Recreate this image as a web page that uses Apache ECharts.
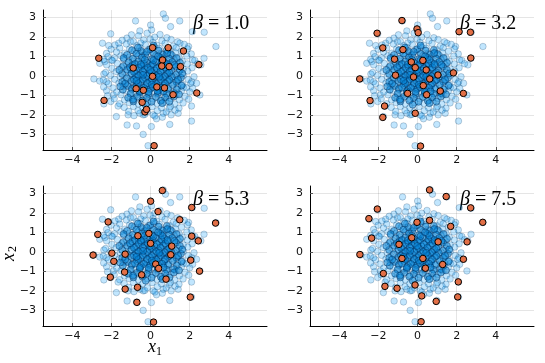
<!DOCTYPE html>
<html>
<head>
<meta charset="utf-8">
<script src="https://cdn.jsdelivr.net/npm/echarts@6/dist/echarts.min.js"></script>
<style>
  html, body { margin: 0; padding: 0; background: #fff; }
  #main { width: 545px; height: 363px; }
</style>
</head>
<body>
<div id="main"></div>
<script>
// sample cloud, same in all four panels
const cloudOuter = [
  [0.65,3.17],[0.76,2.95],[1.49,2.81],[-0.77,2.81],[0,2.6],[0.05,2.35],[-0.55,2.3],[-2.04,2.15],
  [2.74,2.23],[2.13,2.26],[1.02,2.52],[3.34,1.5],[-2.46,1.67],[-2.14,1.55],[-1.63,1.67],[-0.98,2.1],
  [-1.03,1.75],[1.5,1.67],[1.94,1.5],[-2.25,1.15],[-2.6,0.64],[-2.34,0.73],[-2.0,0.81],[2.15,0.81],
  [2.73,0.9],[2.57,0.56],[-2.9,-0.16],[-2.39,0.09],[-2.25,-0.3],[-2.6,-0.27],[2.1,-0.3],[2.35,-0.38],
  [2.15,-0.64],[2.52,-0.98],[1.68,-0.59],[-2.25,-0.76],[-1.91,-0.98],[-2.04,-1.32],[-2.39,-1.44],
  [-1.66,-1.55],[-1.75,-2.09],[-1.2,-2.52],[-0.72,-2.57],[-1.15,-2.0],[-0.38,-3.0],[-0.13,-3.58],
  [0.04,-2.6],[0.3,-2.2],[0.98,-2.49],[1.41,-1.92],[2.09,-1.55],[2.09,-2.32],[0.95,-1.67],
  [0.65,-1.92],[0.13,-2.0],[-0.38,-2.0],[-0.55,-1.92]
];
const cloudRing = [
  [-0.62,2.05],[0.21,1.98],[0.48,2.12],[-0.18,2.18],[0.83,1.95],[-1.21,1.93],
  [-1.45,1.82],[-0.88,1.76],[-0.35,1.84],[0.12,1.71],[0.58,1.79],[1.05,1.86],[1.38,1.74],[-0.02,1.88],
  [-1.82,1.58],[-1.24,1.63],[-0.71,1.55],[-0.27,1.62],[0.31,1.57],[0.74,1.66],[1.16,1.52],[1.72,1.61],[-0.5,1.68],
  [-2.02,1.36],[-1.58,1.42],[-1.07,1.38],[-0.55,1.45],[-0.1,1.33],[0.45,1.41],[0.96,1.35],[1.31,1.44],[1.89,1.38],[0.18,1.47],
  [-1.74,1.22],[-1.32,1.16],[-0.84,1.25],[-0.38,1.18],[0.06,1.24],[0.52,1.15],[0.88,1.21],[1.27,1.18],[1.58,1.26],[2.08,1.12],[-0.6,1.1],
  [-2.18,0.98],[-1.52,1.03],[-1.1,0.95],[-0.66,1.02],[-0.22,0.96],[0.28,1.05],[0.69,0.97],[1.12,1.04],[1.46,0.93],[1.85,1.01],[-1.85,0.92],
  [-1.95,0.78],[-1.38,0.83],[-0.92,0.76],[-0.45,0.82],[0.02,0.74],[0.41,0.84],[0.82,0.77],[1.21,0.83],[1.62,0.75],[2.26,0.79],[-2.4,0.84],
  [-2.25,0.56],[-1.7,0.63],[-1.22,0.57],[-0.76,0.64],[-0.31,0.55],[0.15,0.62],[0.59,0.56],[1.02,0.65],[1.41,0.58],[1.88,0.61],[2.4,0.62],
  [-1.98,0.38],[-1.48,0.42],[-1.03,0.35],[-0.58,0.43],[-0.12,0.37],[0.33,0.44],[0.76,0.36],[1.23,0.42],[1.67,0.35],[2.12,0.41],
  [-2.3,0.17],[-1.76,0.22],[-1.26,0.16],[-0.81,0.24],[-0.35,0.18],[0.09,0.23],[0.54,0.15],[0.98,0.22],[1.44,0.18],[1.9,0.24],
  [-2.05,0.02],[-1.55,-0.04],[-1.06,0.04],[-0.6,-0.03],[-0.16,0.05],[0.31,-0.02],[0.77,0.03],[1.21,-0.04],[1.68,0.02],[2.22,-0.05],
  [-2.42,-0.22],[-1.84,-0.18],[-1.34,-0.24],[-0.87,-0.17],[-0.41,-0.23],[0.05,-0.16],[0.52,-0.22],[0.96,-0.18],[1.45,-0.24],[1.92,-0.19],
  [-2.15,-0.41],[-1.62,-0.37],[-1.13,-0.44],[-0.66,-0.38],[-0.2,-0.42],[0.27,-0.36],[0.73,-0.43],[1.18,-0.37],[1.64,-0.44],[2.05,-0.39],
  [-1.92,-0.62],[-1.4,-0.56],[-0.93,-0.63],[-0.45,-0.58],[0.01,-0.64],[0.47,-0.57],[0.93,-0.62],[1.38,-0.56],[1.83,-0.61],[-2.4,-0.57],
  [-1.73,-0.83],[-1.25,-0.77],[-0.76,-0.84],[-0.28,-0.78],[0.19,-0.82],[0.66,-0.76],[1.12,-0.84],[1.57,-0.78],[2.0,-0.82],
  [-2.2,-1.02],[-1.52,-0.97],[-1.04,-1.04],[-0.55,-0.98],[-0.08,-1.03],[0.38,-0.96],[0.84,-1.02],[1.3,-0.98],[1.76,-1.05],
  [-1.86,-1.18],[-1.33,-1.24],[-0.84,-1.17],[-0.36,-1.22],[0.12,-1.19],[0.58,-1.25],[1.04,-1.16],[1.47,-1.23],[1.95,-1.2],
  [-1.58,-1.43],[-1.1,-1.37],[-0.63,-1.44],[-0.15,-1.38],[0.33,-1.42],[0.79,-1.36],[1.24,-1.44],[1.66,-1.39],
  [-1.35,-1.62],[-0.88,-1.57],[-0.4,-1.63],[0.08,-1.58],[0.55,-1.64],[1.02,-1.57],[1.45,-1.66],
  [-1.12,-1.82],[-0.64,-1.78],[-0.17,-1.84],[0.34,-1.79],[0.8,-1.85],[1.25,-1.76],
  [-0.85,-2.04],[-0.3,-1.98],[0.22,-2.06],[0.6,-2.12],[1.05,-2.0]
];
const cloudCore = [
  [-0.95,1.31],[-0.48,1.27],[-0.02,1.36],[0.41,1.29],[0.83,1.32],
  [-1.2,1.07],[-0.73,1.13],[-0.28,1.06],[0.17,1.12],[0.62,1.08],[1.03,1.11],
  [-1.38,0.91],[-0.9,0.87],[-0.44,0.93],[0.07,0.86],[0.51,0.92],[0.95,0.88],[1.33,0.91],
  [-1.12,0.69],[-0.63,0.73],[-0.18,0.67],[0.27,0.72],[0.7,0.68],[1.11,0.71],[1.5,0.67],
  [-1.4,0.49],[-0.93,0.53],[-0.47,0.47],[0.02,0.52],[0.46,0.48],[0.88,0.53],[1.3,0.47],
  [-1.2,0.31],[-0.74,0.27],[-0.29,0.33],[0.2,0.28],[0.63,0.32],[1.06,0.27],[1.5,0.3],
  [-1.45,0.09],[-0.97,0.12],[-0.51,0.07],[-0.05,0.13],[0.41,0.08],[0.86,0.11],[1.3,0.06],
  [-1.22,-0.12],[-0.75,-0.07],[-0.28,-0.13],[0.18,-0.08],[0.63,-0.11],[1.08,-0.06],[1.55,-0.1],
  [-1.45,-0.31],[-0.98,-0.27],[-0.51,-0.33],[-0.04,-0.28],[0.42,-0.32],[0.88,-0.27],[1.32,-0.31],
  [-1.18,-0.52],[-0.7,-0.47],[-0.24,-0.53],[0.22,-0.48],[0.68,-0.51],[1.13,-0.47],[1.58,-0.5],
  [-1.42,-0.71],[-0.96,-0.67],[-0.49,-0.73],[-0.03,-0.68],[0.43,-0.72],[0.89,-0.67],[1.34,-0.7],
  [-1.02,-0.91],[-0.55,-0.87],[-0.1,-0.93],[0.37,-0.88],[0.82,-0.92],[1.2,-0.89],
  [-1.15,-1.12],[-0.68,-1.07],[-0.2,-1.13],[0.27,-1.08],[0.74,-1.11],[1.19,-1.06],
  [-0.88,-1.31],[-0.42,-1.27],[0.05,-1.33],[0.52,-1.28],[0.96,-1.32],
  [-0.8,0.6],[-0.35,0.62],[0.1,0.58],[0.55,0.63],[-0.62,0.4],[-0.15,0.42],[0.32,0.38],[0.75,0.43],
  [-0.85,0.2],[-0.4,0.22],[0.05,0.18],[0.5,0.21],[0.95,0.17],[-0.62,0.0],[-0.17,-0.02],[0.29,0.01],
  [0.72,-0.03],[-0.85,-0.2],[-0.4,-0.18],[0.07,-0.22],[0.52,-0.19],[0.96,-0.21],[-0.63,-0.4],
  [-0.17,-0.38],[0.3,-0.42],[0.74,-0.39],[-0.8,-0.6],[-0.34,-0.62],[0.12,-0.58],[0.58,-0.61],
  [-0.55,-0.8],[-0.1,-0.82],[0.35,-0.78],[-0.3,0.82],[0.15,0.8],[0.6,0.83],
  [-1.05,0.44],[-0.2,1.23],[0.38,1.0],[1.22,0.56],[-1.3,-0.4],[1.4,-0.2],[-0.9,-1.22],[0.6,-1.4],
  [-0.25,-1.48],[0.85,1.16],[-0.65,1.45],[1.62,0.12],[-1.6,0.3],[-1.55,-0.55],[1.45,-0.95],[0.15,1.55],
  [-0.38,0.05],[0.44,-0.05],[-0.02,0.3],[0.06,-0.45],[-0.5,0.58],[0.86,0.6],[-0.72,-0.25],[0.66,-0.8]
];

// highlighted points per panel
const picked1 = [
  [-2.65,0.9],[0.1,1.44],[0.9,1.44],[1.68,1.27],[0.61,0.81],[0.57,0.5],[0.95,0.47],[1.53,0.47],
  [2.47,0.57],[-0.89,0.4],[0.1,-0.03],[-0.74,-0.66],[-0.37,-0.74],[0.32,-0.57],[0.71,-0.62],
  [1.15,-0.97],[2.36,-0.88],[-2.38,-1.26],[-0.43,-1.36],[-0.29,-1.85],[-0.21,-1.72],[0.18,-3.58]
];
const picked2 = [
  [-0.8,2.83],[-2.07,2.18],[-0.03,2.4],[0.03,2.21],[2.12,2.26],[2.7,2.23],[-1.78,1.43],[-0.75,1.34],
  [-1.18,0.85],[-0.32,0.71],[0.27,0.79],[-0.12,0.42],[0.44,0.3],[2.72,0.91],[1.83,0.15],[1.04,0.04],
  [-1.13,0.03],[-0.21,-0.06],[0.62,-0.16],[-2.96,-0.16],[0.29,-0.5],[1.16,-0.78],[-0.51,-0.9],
  [0.46,-0.97],[2.34,-0.9],[-2.43,-1.27],[-1.69,-1.55],[-0.12,-1.92],[-1.78,-2.13],[0.15,-3.6]
];
const picked3 = [
  [0.6,3.14],[0,2.59],[0.38,2.06],[2.1,2.27],[1.49,1.64],[3.32,1.47],[-2.17,1.53],[-2.7,0.89],
  [-0.09,0.94],[-0.65,0.82],[2.1,0.8],[2.44,0.56],[0,0.43],[1.08,0.29],[-2.94,-0.17],[-1.98,-0.07],
  [-1.3,-0.12],[1.03,-0.15],[-1.88,-0.49],[2.05,-0.43],[0.26,-0.63],[0.41,-0.85],[-1.33,-1.04],
  [2.5,-0.99],[-0.46,-1.18],[-2.06,-1.3],[0.79,-1.4],[-0.67,-1.82],[-1.3,-1.91],[2.03,-2.32],
  [-0.7,-2.59],[0.15,-3.6]
];
const picked4 = [
  [0.61,3.17],[1.46,2.83],[-2.06,2.19],[2.71,2.25],[-2.49,1.7],[-0.03,1.51],[0.61,1.61],[3.33,1.51],
  [1.69,1.3],[-2.35,0.7],[-0.3,0.72],[1.05,0.51],[2.53,0.51],[-0.95,0.38],[-2.95,-0.14],[-0.8,-0.34],
  [0.27,-0.34],[2.34,-0.38],[0.4,-0.84],[1.28,-0.65],[-1.75,-1.11],[-1.67,-1.77],[-1.05,-1.87],
  [-0.13,-1.7],[2.08,-1.54],[0.21,-2.26],[2.05,-2.31],[0.95,-2.54],[0.18,-3.58]
];
const pickedSets = [picked1, picked2, picked3, picked4];
const betaLabels = ['1.0', '3.2', '5.3', '7.5'];
const xTicks = [-4, -2, 0, 2, 4];
const yTicks = [-3, -2, -1, 0, 1, 2, 3];

const chart = echarts.init(document.getElementById('main'));

const boxes = [
  { left: 43, top: 10 },
  { left: 310, top: 10 },
  { left: 43, top: 186 },
  { left: 310, top: 186 }
];
const fmt = v => String(v).replace('-', '\u2212');
const tickFont = { fontSize: 11, color: '#111', fontFamily: 'DejaVu Sans' };

const grids = [], xAxes = [], yAxes = [], series = [], graphics = [];
boxes.forEach((b, i) => {
  grids.push({ left: b.left, top: b.top, width: 224, height: 140 });
  xAxes.push({
    type: 'value', gridIndex: i, min: -5.5, max: 5.95,
    axisLine: { show: true, onZero: false, lineStyle: { color: '#000', width: 1 } },
    axisTick: { show: true, inside: true, length: 3, customValues: xTicks, lineStyle: { color: '#555' } },
    axisLabel: Object.assign({ customValues: xTicks, formatter: fmt, margin: 5 }, tickFont),
    splitLine: { show: true, lineStyle: { color: 'rgba(0,0,0,0.1)', width: 1 } }
  });
  yAxes.push({
    type: 'value', gridIndex: i, min: -3.8, max: 3.37,
    axisLine: { show: true, onZero: false, lineStyle: { color: '#000', width: 1 } },
    axisTick: { show: true, inside: true, length: 3, customValues: yTicks, lineStyle: { color: '#555' } },
    axisLabel: Object.assign({ customValues: yTicks, formatter: fmt, margin: 7 }, tickFont),
    splitLine: { show: true, lineStyle: { color: 'rgba(0,0,0,0.1)', width: 1 } }
  });
  series.push({
    type: 'scatter', xAxisIndex: i, yAxisIndex: i, symbolSize: 6.5,
    data: cloudOuter.concat(cloudRing),
    itemStyle: { color: 'rgba(0,154,250,0.3)', borderColor: 'rgba(0,40,80,0.27)', borderWidth: 1 }
  });
  series.push({
    type: 'scatter', xAxisIndex: i, yAxisIndex: i, symbolSize: 7,
    data: cloudCore,
    itemStyle: { color: 'rgba(0,130,215,0.65)', borderColor: 'rgba(0,30,70,0.5)', borderWidth: 1 }
  });
  series.push({
    type: 'scatter', xAxisIndex: i, yAxisIndex: i, symbolSize: 6.5,
    data: pickedSets[i],
    itemStyle: { color: '#e26f46', borderColor: '#000', borderWidth: 1, opacity: 1 }
  });
  graphics.push({
    type: 'text', left: b.left + 150, top: b.top + 4,
    style: {
      text: '{b|\u03b2} = ' + betaLabels[i],
      font: '20px "Liberation Serif"', fill: '#000',
      rich: { b: { fontStyle: 'italic', fontSize: 20, fontFamily: 'Liberation Serif' } }
    }
  });
});

// axis titles of the lower-left panel
graphics.push({ type: 'text', x: 152, y: 347, style: { text: 'x', font: 'italic 18px "Liberation Serif"', fill: '#000', align: 'center', verticalAlign: 'middle' } });
graphics.push({ type: 'text', x: 159, y: 352, style: { text: '1', font: '12px "Liberation Serif"', fill: '#000', align: 'center', verticalAlign: 'middle' } });
graphics.push({ type: 'text', x: 9, y: 257, rotation: Math.PI / 2, style: { text: 'x', font: 'italic 18px "Liberation Serif"', fill: '#000', align: 'center', verticalAlign: 'middle' } });
graphics.push({ type: 'text', x: 13, y: 249, rotation: Math.PI / 2, style: { text: '2', font: '12px "Liberation Serif"', fill: '#000', align: 'center', verticalAlign: 'middle' } });

chart.setOption({
  animation: false,
  backgroundColor: '#fff',
  grid: grids,
  xAxis: xAxes,
  yAxis: yAxes,
  series: series,
  graphic: graphics
});
</script>
</body>
</html>
